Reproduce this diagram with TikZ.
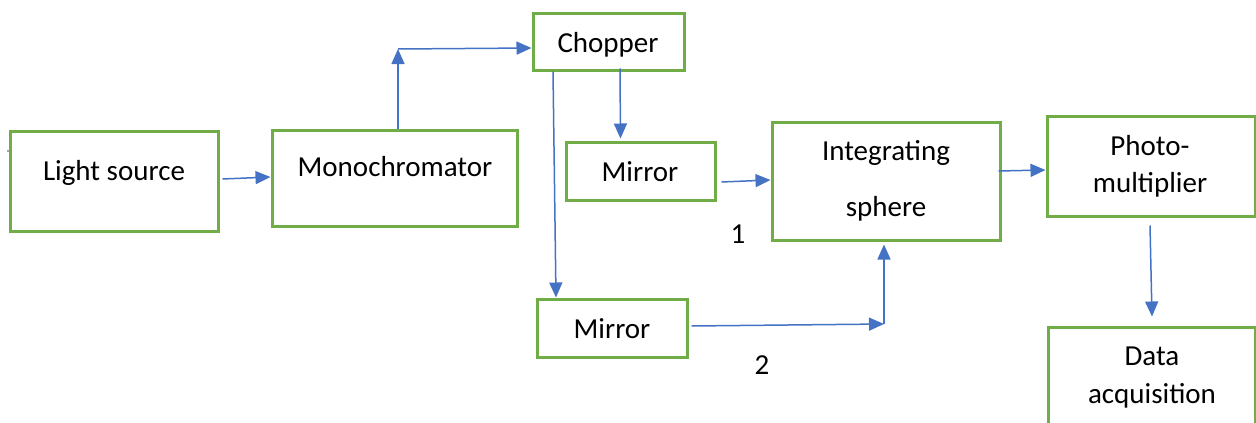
\documentclass[tikz,border=0pt]{standalone}
\usepackage{fontspec}
\setmainfont{Carlito}
\usetikzlibrary{arrows.meta}
\definecolor{boxgreen}{HTML}{70AD47}
\definecolor{arrowblue}{HTML}{4472C4}
\tikzset{
  blk/.style={draw=boxgreen, line width=3pt, rectangle, inner sep=0pt},
  lbl/.style={anchor=base, inner sep=0pt, font=\fontsize{29}{35}\selectfont},
  arr/.style={draw=arrowblue, line width=1.5pt, -{Triangle[length=15pt,width=13pt]}},
  ln/.style={draw=arrowblue, line width=1.5pt}
}
\begin{document}
\begin{tikzpicture}[x=1pt,y=-1pt]
\useasboundingbox (0,0) rectangle (1256,423);
\clip (0,0) rectangle (1256,423);
\fill[white] (0,0) rectangle (1256,423);

% blocks
\node[blk, minimum width=208pt, minimum height=100pt] (ls)    at (114,181)    {};
\node[blk, minimum width=245pt, minimum height=96pt]  (mono)  at (394.5,178)  {};
\node[blk, minimum width=151pt, minimum height=57pt]  (chop)  at (608.5,41.5) {};
\node[blk, minimum width=149pt, minimum height=58pt]  (mir1)  at (640.5,171)  {};
\node[blk, minimum width=228pt, minimum height=118pt] (integ) at (886,181)    {};
\node[blk, minimum width=208pt, minimum height=100pt] (photo) at (1151,166)   {};
\node[blk, minimum width=150pt, minimum height=58pt]  (mir2)  at (612,328)    {};
\node[blk, minimum width=207pt, minimum height=113pt] (daq)   at (1151.5,383.5) {};

% texts
\node[lbl] (ls-t)    at (114,180)  {Light source};
\node[lbl] (mono-t)  at (395,176)  {Monochromator};
\node[lbl] (chop-t)  at (608,52)   {Chopper};
\node[lbl] (mir1-t)  at (640,181)  {Mirror};
\node[lbl] (integ-t) at (886,160)  {Integrating};
\node[lbl] (integ-b) at (886,216)  {sphere};
\node[lbl] (photo-t) at (1150,155) {Photo-};
\node[lbl] (photo-b) at (1150,192) {multiplier};
\node[lbl] (mir2-t)  at (612,338)  {Mirror};
\node[lbl] (daq-t)   at (1152,365) {Data};
\node[lbl] (daq-b)   at (1152,403) {acquisition};
\node[lbl] (one) at (738,243) {1};
\node[lbl] (two) at (762,374) {2};

% stray mark at the left edge
\fill[black!70] (8,151) circle (0.9pt);

% connectors
\coordinate (up)  at (398,49);
\coordinate (low) at (884,324);

\draw[arr] ([xshift=3pt,yshift=2pt]ls.east) -- ([yshift=1pt]mono.west);
\draw[arr] ([xshift=3.5pt]mono.north) -- (up);
\draw[arr] (up) -- ([yshift=-6.5pt]chop.west);
\draw[arr] ([xshift=11.5pt,yshift=3pt]chop.south) -- ([xshift=-20pt,yshift=2pt]mir1.north);
\draw[arr] ([xshift=-55.5pt]chop.south) -- ([xshift=-56pt]mir2.north);
\draw[arr] ([xshift=5pt,yshift=-11pt]mir1.east) -- ([yshift=1pt]integ.west);
\draw[arr] ([xshift=-3pt,yshift=10pt]integ.east) -- ([yshift=-4pt]photo.west);
\draw[arr] ([xshift=3pt,yshift=2pt]mir2.east) -- (low);
\draw[arr] (low) -- ([xshift=-2pt,yshift=-3pt]integ.south);
\draw[arr] ([xshift=-1pt,yshift=-8pt]photo.south) -- ([xshift=0.5pt,yshift=9pt]daq.north);
\end{tikzpicture}
\end{document}
